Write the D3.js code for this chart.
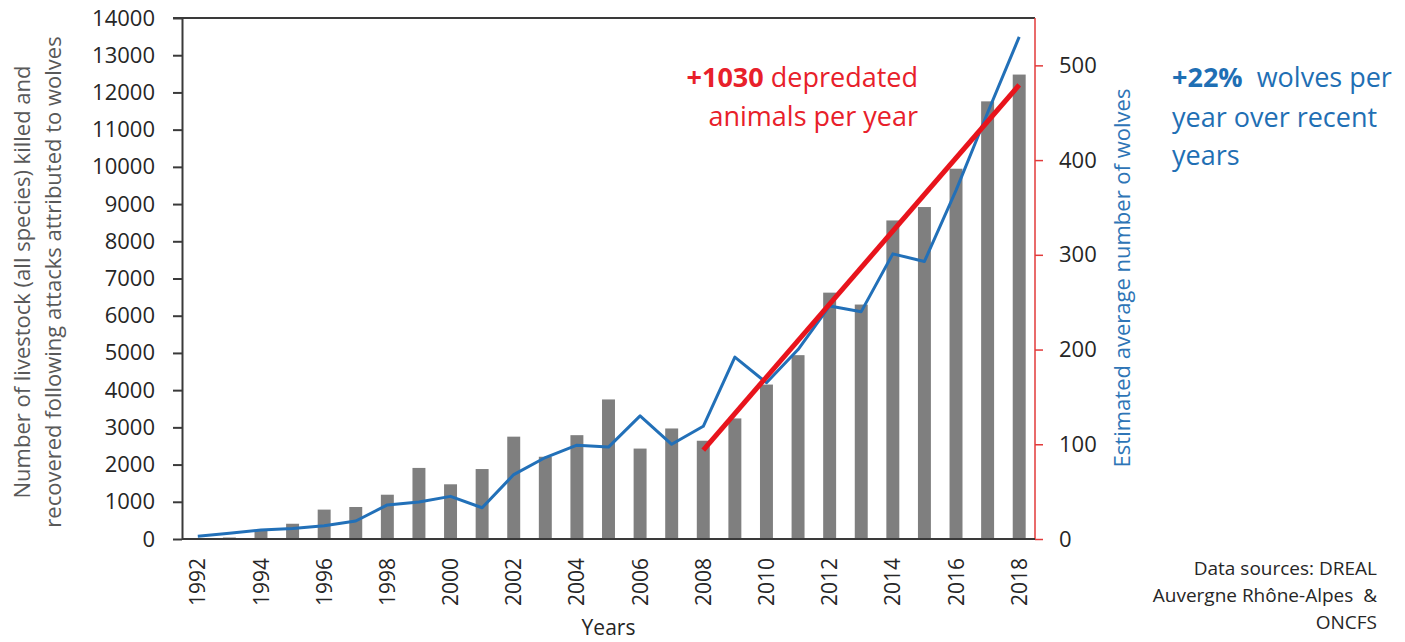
<!DOCTYPE html>
<html>
<head>
<meta charset="utf-8">
<script src="https://cdn.jsdelivr.net/npm/d3@7"></script>
<style>
  body { margin: 0; background: #fff; }
  svg text { font-family: "Open Sans", "Noto Sans", sans-serif; }
  .axis_left path, .axis_left line { stroke: #3a3a3a; stroke-width: 2; }
  .axis_right path, .axis_right line { stroke: #e23a3a; stroke-width: 1.5; }
  .axis_x path { stroke: #3a3a3a; stroke-width: 2; }
</style>
</head>
<body>
<div id="chart"></div>
<script>
// data
const years = d3.range(1992, 2019);
const livestock = [10, 40, 240, 410, 790, 860, 1190, 1910, 1470, 1880,
  2750, 2210, 2790, 3750, 2430, 2970, 2640, 3240, 4150, 4940,
  6620, 6300, 8560, 8920, 9950, 11760, 12480];
const wolves = [3, 6, 9.5, 11, 14, 19, 36, 39, 45, 33,
  68, 86, 99, 97, 130, 100, 119, 192, 165, 200,
  246, 240, 301, 293, 368, 450, 530];
const trendYears = [2008, 2018];
const trendValues = [2390, 12200];
const leftTicks = d3.range(0, 14001, 1000);
const rightTicks = d3.range(0, 501, 100);
const xTickYears = d3.range(1992, 2019, 2);

const width = 1405, height = 642;
const margin = { left: 182, right: 370, top: 18, bottom: 103 };

const svg = d3.select('#chart')
  .append('svg')
  .attr('width', width)
  .attr('height', height);

const x = d3.scaleBand()
  .domain(years)
  .range([margin.left, width - margin.right])
  .paddingInner(0.59)
  .paddingOuter(0.295);

const yLeft = d3.scaleLinear()
  .domain([0, 14000])
  .range([height - margin.bottom, margin.top]);

const yRight = d3.scaleLinear()
  .domain([0, 550])
  .range([height - margin.bottom, margin.top]);

const cx = d => x(d) + x.bandwidth() / 2;

// bars
svg.append('g')
  .selectAll('rect')
  .data(years)
  .enter()
    .append('rect')
    .attr('x', d => x(d))
    .attr('y', (d, i) => yLeft(livestock[i]))
    .attr('width', x.bandwidth())
    .attr('height', (d, i) => yLeft(0) - yLeft(livestock[i]))
    .attr('fill', '#7f7f7f');

// top frame line
svg.append('line')
  .attr('x1', margin.left - 9)
  .attr('x2', width - margin.right)
  .attr('y1', yLeft(14000))
  .attr('y2', yLeft(14000))
  .attr('stroke', '#3a3a3a')
  .attr('stroke-width', 2);

// left axis
const leftAxis = svg.append('g')
  .attr('class', 'axis_left')
  .attr('transform', `translate(${margin.left},0)`)
  .call(d3.axisLeft(yLeft).tickValues(leftTicks).tickFormat(d3.format('d'))
    .tickSize(9).tickSizeOuter(0).tickPadding(18));
leftAxis.selectAll('text')
  .attr('fill', '#262626')
  .style('font-size', '22px');

// right axis
const rightAxis = svg.append('g')
  .attr('class', 'axis_right')
  .attr('transform', `translate(${width - margin.right},0)`)
  .call(d3.axisRight(yRight).tickValues(rightTicks).tickSize(8).tickSizeOuter(0).tickPadding(16));
rightAxis.select('path.domain')
  .attr('d', `M0,${yRight(0)}V${margin.top}`);
rightAxis.selectAll('text')
  .attr('fill', '#262626')
  .style('font-size', '22px');

// x axis
const xAxis = svg.append('g')
  .attr('class', 'axis_x')
  .attr('transform', `translate(0,${height - margin.bottom})`)
  .call(d3.axisBottom(x).tickValues(xTickYears).tickSize(0).tickSizeOuter(0));
xAxis.select('path.domain')
  .attr('d', `M${margin.left},0H${width - margin.right}`);
xAxis.selectAll('text')
  .attr('transform', 'rotate(-90)')
  .attr('x', -19)
  .attr('y', 0)
  .attr('dy', '0.36em')
  .style('text-anchor', 'end')
  .style('font-size', '21px')
  .attr('fill', '#262626');

// wolves line
svg.append('path')
  .datum(years)
  .attr('fill', 'none')
  .attr('stroke', '#2270b8')
  .attr('stroke-width', 3)
  .attr('stroke-linejoin', 'round')
  .attr('d', d3.line()
    .x(d => cx(d))
    .y((d, i) => yRight(wolves[i])));

// trend line
svg.append('path')
  .datum(trendYears)
  .attr('fill', 'none')
  .attr('stroke', '#e8141c')
  .attr('stroke-width', 5)
  .attr('d', d3.line()
    .x(d => cx(d))
    .y((d, i) => yLeft(trendValues[i])));

// axis titles
const leftTitle = svg.append('text')
  .attr('transform', `translate(22,282) rotate(-90)`)
  .attr('text-anchor', 'middle')
  .attr('fill', '#595959')
  .style('font-size', '22px');
leftTitle.append('tspan').attr('x', 0).attr('dy', '0.35em')
  .text('Number of livestock (all species) killed and');
leftTitle.append('tspan').attr('x', 0).attr('dy', 31)
  .text('recovered following attacks attributed to wolves');

svg.append('text')
  .attr('transform', `translate(1122,278) rotate(-90)`)
  .attr('text-anchor', 'middle')
  .attr('dy', '0.35em')
  .attr('fill', '#2e75b6')
  .style('font-size', '22px')
  .text('Estimated average number of wolves');

svg.append('text')
  .attr('x', (margin.left + width - margin.right) / 2)
  .attr('y', 635)
  .attr('text-anchor', 'middle')
  .attr('fill', '#262626')
  .style('font-size', '21px')
  .text('Years');

// red annotation
const redNote = svg.append('text')
  .attr('text-anchor', 'end')
  .attr('fill', '#e8202a')
  .style('font-size', '27px');
const r1 = redNote.append('tspan').attr('x', 918).attr('y', 87);
r1.append('tspan').style('font-weight', 'bold').text('+1030');
r1.append('tspan').text(' depredated');
redNote.append('tspan').attr('x', 918).attr('y', 126).text('animals per year');

// blue annotation
const blueNote = svg.append('text')
  .attr('fill', '#1f6fb4')
  .style('font-size', '27px');
const b1 = blueNote.append('tspan').attr('x', 1172).attr('y', 87);
b1.append('tspan').style('font-weight', 'bold').text('+22%');
b1.append('tspan').text('\u00a0 wolves per');
blueNote.append('tspan').attr('x', 1172).attr('y', 127).text('year over recent');
blueNote.append('tspan').attr('x', 1172).attr('y', 165).text('years');

// sources
const src = svg.append('text')
  .attr('text-anchor', 'end')
  .attr('fill', '#262626')
  .style('font-size', '19px');
['Data sources: DREAL', 'Auvergne Rh\u00f4ne-Alpes\u00a0 &', 'ONCFS'].forEach((t, i) => {
  src.append('tspan').attr('x', 1377).attr('y', 575 + i * 27).text(t);
});
</script>
</body>
</html>
